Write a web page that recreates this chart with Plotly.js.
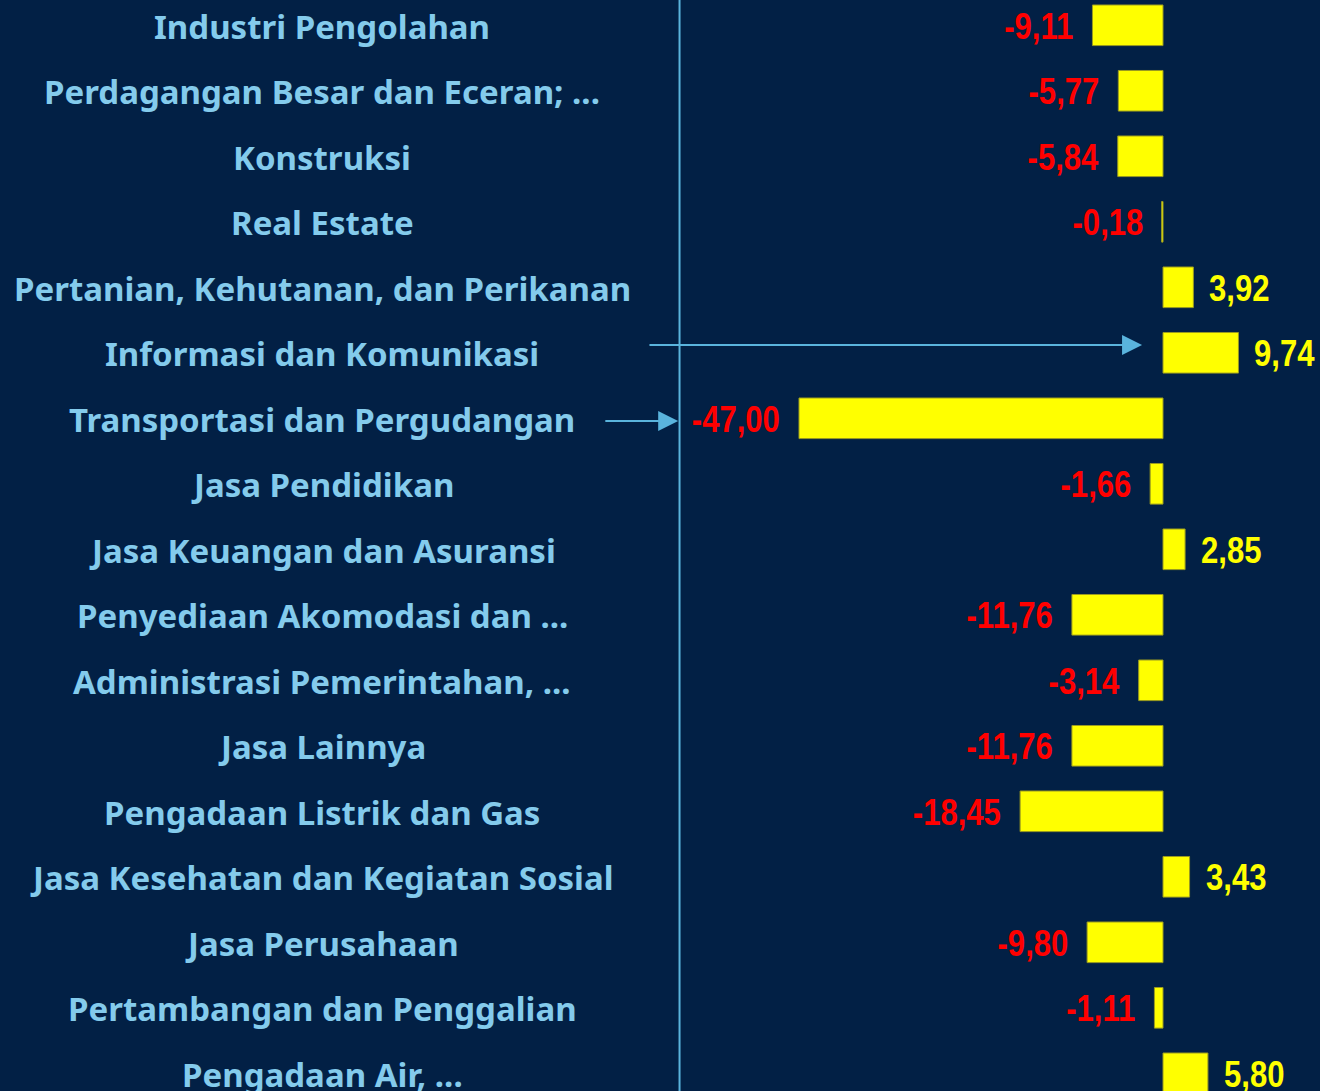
<!DOCTYPE html>
<html>
<head>
<meta charset="utf-8">
<script src="https://cdn.plot.ly/plotly-3.0.1.min.js"></script>
<style>
html,body{margin:0;padding:0;background:#022045;}
#chart{width:1320px;height:1091px;}
</style>
</head>
<body>
<div id="chart"></div>
<script>
const categories = [
  "Industri Pengolahan",
  "Perdagangan Besar dan Eceran; ...",
  "Konstruksi",
  "Real Estate",
  "Pertanian, Kehutanan, dan Perikanan",
  "Informasi dan Komunikasi",
  "Transportasi dan Pergudangan",
  "Jasa Pendidikan",
  "Jasa Keuangan dan Asuransi",
  "Penyediaan Akomodasi dan ...",
  "Administrasi Pemerintahan, ...",
  "Jasa Lainnya",
  "Pengadaan Listrik dan Gas",
  "Jasa Kesehatan dan Kegiatan Sosial",
  "Jasa Perusahaan",
  "Pertambangan dan Penggalian",
  "Pengadaan Air, ..."
];
const values = [-9.11, -5.77, -5.84, -0.18, 3.92, 9.74, -47.00, -1.66, 2.85, -11.76, -3.14, -11.76, -18.45, 3.43, -9.80, -1.11, 5.80];
const valueLabels = ["-9,11","-5,77","-5,84","-0,18","3,92","9,74","-47,00","-1,66","2,85","-11,76","-3,14","-11,76","-18,45","3,43","-9,80","-1,11","5,80"];

const bg = "#022045";
const labelColor = "#84cbec";
const lineColor = "#5ab4dd";

const trace = {
  type: "bar",
  orientation: "h",
  x: values,
  y: categories,
  width: 0.62,
  marker: {color: "#ffff00", line: {color: "#9a9a20", width: 1}},
  hoverinfo: "skip"
};

const annotations = [];
categories.forEach((c, i) => {
  annotations.push({
    xref: "paper", yref: "y", x: 0.244, y: c,
    text: c, showarrow: false, xanchor: "center", yanchor: "middle", yshift: -1,
    font: {family: "Noto Sans, sans-serif", size: 33, color: labelColor, weight: 700}
  });
  const v = values[i];
  annotations.push({
    xref: "x", yref: "y", x: v, y: c,
    text: valueLabels[i], showarrow: false,
    xanchor: v < 0 ? "right" : "left", yanchor: "middle",
    xshift: v < 0 ? -17 : 14, yshift: -1,
    font: {family: "Liberation Sans, Arial, sans-serif", size: 37,
           color: v < 0 ? "#ff0000" : "#ffff00", weight: 700}
  });
});

// arrows
annotations.push({
  xref: "x", yref: "y", axref: "x", ayref: "y",
  x: -2.7, y: 4.88, ax: -66.5, ay: 4.88, text: "",
  showarrow: true, arrowhead: 2, arrowsize: 2, arrowwidth: 2, arrowcolor: lineColor
});
annotations.push({
  xref: "x", yref: "y", axref: "x", ayref: "y",
  x: -62.6, y: 6.04, ax: -72.2, ay: 6.04, text: "",
  showarrow: true, arrowhead: 2, arrowsize: 2, arrowwidth: 2, arrowcolor: lineColor
});

const layout = {
  width: 1320, height: 1091,
  margin: {l: 0, r: 0, t: 0, b: 0},
  paper_bgcolor: bg, plot_bgcolor: bg,
  showlegend: false,
  xaxis: {range: [-150.16, 20.27], showgrid: false, zeroline: false, showticklabels: false, fixedrange: true},
  yaxis: {type: "category", categoryorder: "array", categoryarray: categories,
          range: [16.27, -0.386], showgrid: false, zeroline: false, showticklabels: false, fixedrange: true},
  shapes: [{type: "line", xref: "paper", yref: "paper", x0: 0.5148, x1: 0.5148, y0: 0, y1: 1,
            line: {color: lineColor, width: 2}}],
  annotations: annotations
};

Plotly.newPlot("chart", [trace], layout, {displayModeBar: false, staticPlot: true}).then(() => {
  // condense the value labels horizontally (narrow bold look), anchored at the bar side
  document.querySelectorAll("#chart g.annotation").forEach((g) => {
    const k = parseInt(g.getAttribute("data-index"), 10);
    if (isNaN(k) || k >= categories.length * 2 || k % 2 !== 1) return;
    const t = g.querySelector("text.annotation-text");
    if (!t) return;
    const bb = t.getBBox();
    const i = (k - 1) / 2;
    const cx = values[i] < 0 ? bb.x + bb.width : bb.x;
    t.setAttribute("transform", `translate(${cx},0) scale(0.84,1) translate(${-cx},0)`);
  });
});
</script>
</body>
</html>
